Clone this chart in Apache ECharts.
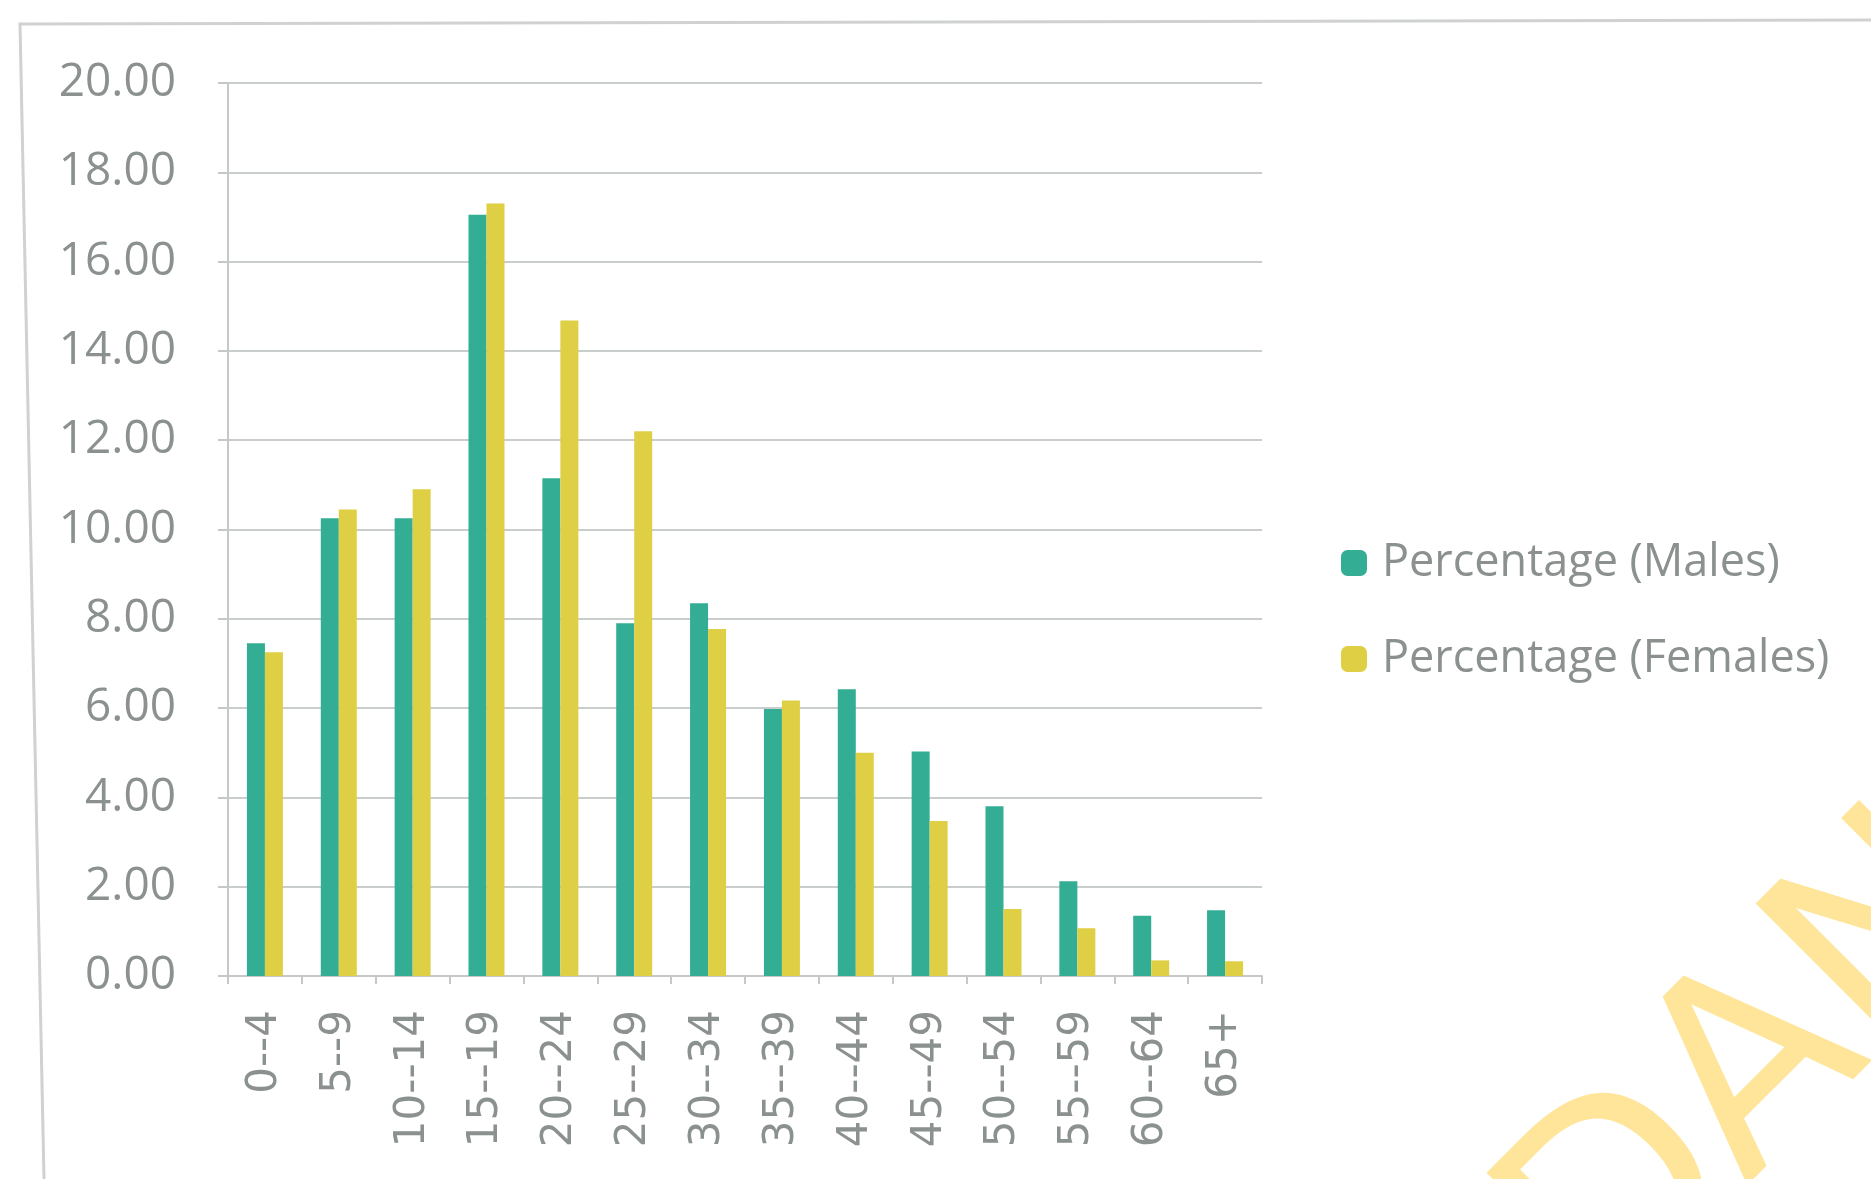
<!DOCTYPE html>
<html>
<head>
<meta charset="utf-8">
<script src="https://cdn.jsdelivr.net/npm/echarts@6/dist/echarts.min.js"></script>
<style>
  html, body { margin: 0; padding: 0; background: #ffffff; }
  #chart { width: 1871px; height: 1179px; }
</style>
</head>
<body>
<div id="chart"></div>
<script>
// Age groups and population share by sex (%)
const ageGroups = ['0--4', '5--9', '10--14', '15--19', '20--24', '25--29', '30--34',
                   '35--39', '40--44', '45--49', '50--54', '55--59', '60--64', '65+'];
const malesPct   = [7.45, 10.25, 10.25, 17.05, 11.15, 7.9, 8.35, 5.98, 6.42, 5.03, 3.8, 2.12, 1.35, 1.47];
const femalesPct = [7.25, 10.45, 10.9, 17.3, 14.68, 12.2, 7.77, 6.17, 5.0, 3.47, 1.5, 1.07, 0.35, 0.33];
const yTicks = { min: 0, max: 20, step: 2 };
const seriesNames = ['Percentage (Males)', 'Percentage (Females)'];

const textGray = '#8b918e';
const chart = echarts.init(document.getElementById('chart'));

chart.setOption({
  backgroundColor: '#ffffff',
  animation: false,
  grid: { left: 228, right: 609, top: 83, bottom: 203 },
  legend: {
    orient: 'vertical',
    left: 1336,
    top: 533,
    itemWidth: 26,
    itemHeight: 26,
    itemGap: 46,
    icon: 'roundRect',
    textStyle: {
      color: textGray, fontSize: 45, lineHeight: 50,
      fontFamily: 'Open Sans', padding: [0, 0, 0, 10]
    },
    data: seriesNames
  },
  xAxis: {
    type: 'category',
    data: ageGroups,
    axisLine: { show: true, lineStyle: { color: '#c4c8c6', width: 2 } },
    axisTick: { show: true, length: 8, lineStyle: { color: '#c4c8c6', width: 2 } },
    axisLabel: { rotate: 90, margin: 34, color: textGray, fontSize: 42, fontFamily: 'DejaVu Sans' }
  },
  yAxis: {
    type: 'value',
    min: yTicks.min,
    max: yTicks.max,
    interval: yTicks.step,
    axisLine: { show: true, lineStyle: { color: '#c4c8c6', width: 2 } },
    axisTick: { show: true, length: 10, lineStyle: { color: '#c4c8c6', width: 2 } },
    splitLine: { lineStyle: { color: '#c9cdcb', width: 2 } },
    axisLabel: {
      margin: 52,
      color: textGray,
      fontSize: 46,
      fontFamily: 'Open Sans',
      formatter: v => v.toFixed(2)
    }
  },
  series: [
    {
      name: seriesNames[0],
      type: 'bar',
      data: malesPct,
      barWidth: 18,
      barGap: '0%',
      itemStyle: { color: '#33ad93' }
    },
    {
      name: seriesNames[1],
      type: 'bar',
      data: femalesPct,
      barWidth: 18,
      itemStyle: { color: '#dfcf45' }
    }
  ],
  graphic: [
    {
      // outer frame of the chart area
      type: 'polyline',
      silent: true,
      shape: { points: [[44, 1179], [20, 24], [1871, 20]] },
      style: { stroke: '#cfd2d1', lineWidth: 3, fill: null }
    },
    {
      // diagonal watermark
      type: 'text',
      silent: true,
      x: 1556,
      y: 1279,
      rotation: Math.PI / 4,
      style: {
        text: 'DAN',
        fill: '#ffe599',
        font: '265px "DejaVu Sans"',
        textAlign: 'left',
        textVerticalAlign: 'middle'
      },
      z: 100
    }
  ]
});
</script>
</body>
</html>
